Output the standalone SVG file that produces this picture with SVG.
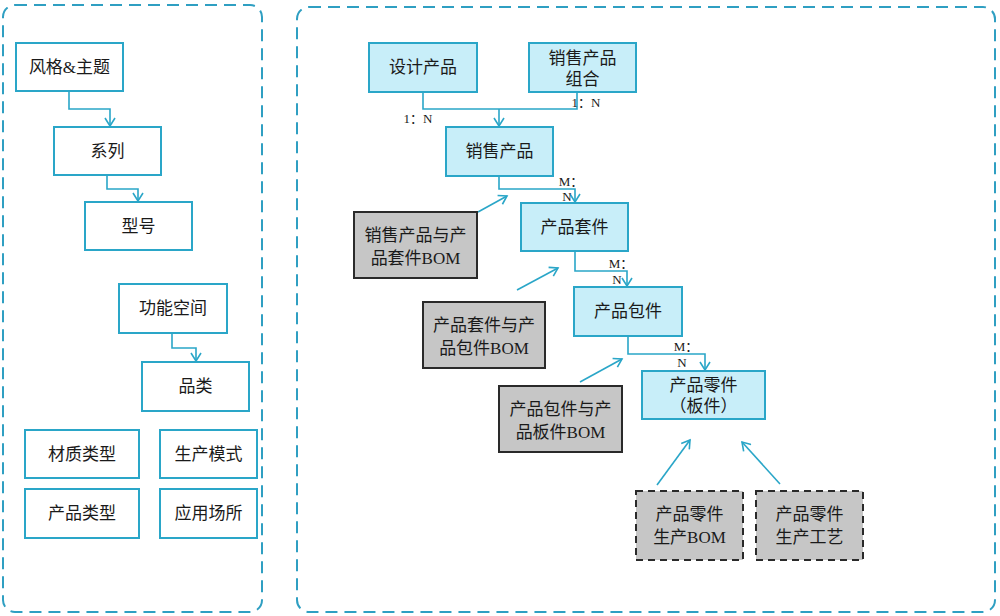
<svg xmlns="http://www.w3.org/2000/svg" width="1000" height="616" viewBox="0 0 1000 616">
<defs>
<marker id="ah" markerWidth="12" markerHeight="12" refX="10" refY="6" orient="auto" markerUnits="userSpaceOnUse">
<path d="M2,1 L10,6 L2,11" fill="none" stroke="#2aa6c8" stroke-width="1.6"/>
</marker>
</defs>
<style>
.panel{fill:none;stroke:#2f9fc2;stroke-width:2;stroke-dasharray:12,7}
.wn{fill:#fff;stroke:#2aa6c8;stroke-width:2}
.bn{fill:#c8eef9;stroke:#2aa6c8;stroke-width:2}
.gn{fill:#c6c6c6;stroke:#2a2a2a;stroke-width:2}
.gd{fill:#c6c6c6;stroke:#2a2a2a;stroke-width:2;stroke-dasharray:7,5}
.c{fill:none;stroke:#2aa6c8;stroke-width:1.6}
text{font-family:"Liberation Serif","Noto Sans CJK SC",serif;font-size:17px;fill:#1a1a1a;text-anchor:middle}
.s{font-size:13px}
</style>
<rect class="panel" x="3" y="5" width="259" height="607" rx="12"/>
<rect class="panel" x="297" y="7" width="698" height="605" rx="12"/>

<g id="connectors">
<path class="c" d="M69,91 V109 H110 V126" marker-end="url(#ah)"/>
<path class="c" d="M107,175 V189 H138 V201" marker-end="url(#ah)"/>
<path class="c" d="M172,333 V348 H196 V361" marker-end="url(#ah)"/>
<path class="c" d="M423,92 V109 H577 V92"/>
<path class="c" d="M499,109 V126" marker-end="url(#ah)"/>
<path class="c" d="M499,176 V189 H575 V202" marker-end="url(#ah)"/>
<path class="c" d="M575,251 V271 H627 V286" marker-end="url(#ah)"/>
<path class="c" d="M628,336 V354 H705 V370" marker-end="url(#ah)"/>
<path class="c" d="M478,212 L507,196" marker-end="url(#ah)"/>
<path class="c" d="M517,290 L558,268" marker-end="url(#ah)"/>
<path class="c" d="M580,382 L622,359" marker-end="url(#ah)"/>
<path class="c" d="M657,485 L690,440" marker-end="url(#ah)"/>
<path class="c" d="M780,484 L742,442" marker-end="url(#ah)"/>
<text class="s" x="418" y="123">1：N</text>
<text class="s" x="586" y="107">1：N</text>
<text class="s" x="571" y="186">M：</text>
<text class="s" x="567" y="201">N</text>
<text class="s" x="621" y="268">M：</text>
<text class="s" x="617" y="284">N</text>
<text class="s" x="686" y="351">M：</text>
<text class="s" x="682" y="367">N</text>
</g>

<g id="n1"><rect class="wn" x="16" y="43" width="107" height="48"/><text x="69.5" y="73">风格&amp;主题</text></g>
<g id="n2"><rect class="wn" x="54" y="127" width="107" height="48"/><text x="107.5" y="157">系列</text></g>
<g id="n3"><rect class="wn" x="85" y="202" width="107" height="48"/><text x="138.5" y="232">型号</text></g>
<g id="n4"><rect class="wn" x="119" y="284" width="108" height="49"/><text x="173" y="314">功能空间</text></g>
<g id="n5"><rect class="wn" x="142" y="362" width="107" height="49"/><text x="195.5" y="392">品类</text></g>
<g id="n6"><rect class="wn" x="25" y="430" width="114" height="48"/><text x="82" y="460">材质类型</text></g>
<g id="n7"><rect class="wn" x="160" y="430" width="97" height="48"/><text x="208.5" y="460">生产模式</text></g>
<g id="n8"><rect class="wn" x="25" y="489" width="114" height="49"/><text x="82" y="519">产品类型</text></g>
<g id="n9"><rect class="wn" x="160" y="489" width="97" height="49"/><text x="208.5" y="519">应用场所</text></g>

<g id="r1"><rect class="bn" x="369" y="43" width="108" height="49"/><text x="423" y="73">设计产品</text></g>
<g id="r2"><rect class="bn" x="529" y="43" width="107" height="49"/><text x="582.5" y="64">销售产品</text><text x="582.5" y="85">组合</text></g>
<g id="r3"><rect class="bn" x="446" y="127" width="107" height="49"/><text x="499.5" y="157">销售产品</text></g>
<g id="r4"><rect class="bn" x="521" y="203" width="107" height="48"/><text x="574.5" y="233">产品套件</text></g>
<g id="r5"><rect class="bn" x="574" y="287" width="108" height="49"/><text x="628" y="317">产品包件</text></g>
<g id="r6"><rect class="bn" x="642" y="371" width="123" height="48"/><text x="703.5" y="391">产品零件</text><text x="703.5" y="412">（板件）</text></g>
<g id="g1"><rect class="gn" x="354" y="212" width="123" height="66"/><text x="415.5" y="241">销售产品与产</text><text x="415.5" y="264">品套件BOM</text></g>
<g id="g2"><rect class="gn" x="423" y="302" width="122" height="66"/><text x="484" y="331">产品套件与产</text><text x="484" y="354">品包件BOM</text></g>
<g id="g3"><rect class="gn" x="499" y="386" width="123" height="66"/><text x="560.5" y="415">产品包件与产</text><text x="560.5" y="438">品板件BOM</text></g>
<g id="g4"><rect class="gd" x="636" y="491" width="107" height="69"/><text x="689.5" y="520">产品零件</text><text x="689.5" y="543">生产BOM</text></g>
<g id="g5"><rect class="gd" x="756" y="491" width="107" height="69"/><text x="809.5" y="520">产品零件</text><text x="809.5" y="543">生产工艺</text></g>
</svg>
